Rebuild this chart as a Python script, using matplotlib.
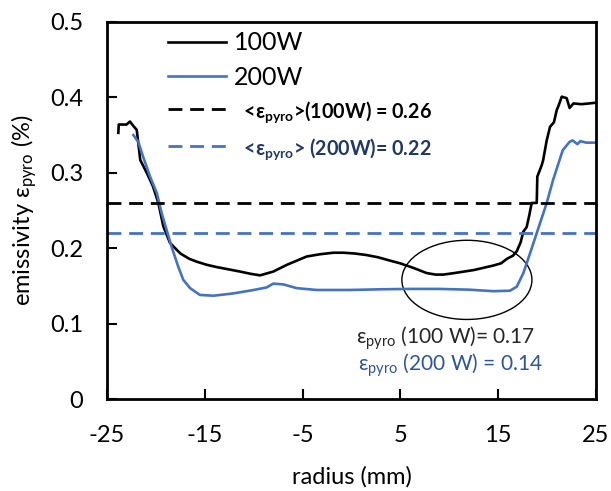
import matplotlib
matplotlib.use("Agg")
import matplotlib.pyplot as plt
from matplotlib.patches import Ellipse

plt.rcParams['font.family'] = ['Lato', 'DejaVu Sans']
plt.rcParams['mathtext.fontset'] = 'custom'
plt.rcParams['mathtext.rm'] = 'Lato'
plt.rcParams['mathtext.it'] = 'Lato:italic'
plt.rcParams['mathtext.bf'] = 'Lato:bold'

# ---- data ----
r_100 = [-23.84, -23.8, -23.0, -22.65, -22.3, -21.96, -21.6, -20.9, -20.3, -19.75,
         -19.24, -18.56, -17.5, -16.6, -15.8, -14.8, -13.8, -12.6, -11.4, -10.3,
         -9.35, -8.0, -6.6, -5.5, -4.58, -3.2, -1.86, -0.8, 0.3, 1.5,
         2.7, 3.8, 4.96, 6.3, 7.69, 8.6, 9.4, 10.5, 11.5, 12.5,
         13.5, 14.5, 15.3, 15.9, 16.5, 16.9, 17.3, 17.57, 17.91, 18.2,
         18.42, 18.94, 19.0, 19.45, 19.6, 19.96, 20.3, 20.7, 20.98, 21.2,
         21.5, 22.0, 22.3, 22.7, 23.5, 24.3, 25.0]
e_100 = [0.353, 0.364, 0.364, 0.368, 0.362, 0.357, 0.317, 0.299, 0.282, 0.260,
         0.229, 0.207, 0.193, 0.186, 0.182, 0.178, 0.175, 0.172, 0.169, 0.166,
         0.164, 0.169, 0.178, 0.184, 0.189, 0.192, 0.194, 0.194, 0.193, 0.191,
         0.188, 0.184, 0.180, 0.174, 0.167, 0.165, 0.165, 0.167, 0.169, 0.171,
         0.174, 0.177, 0.180, 0.186, 0.190, 0.196, 0.208, 0.222, 0.228, 0.245,
         0.260, 0.260, 0.295, 0.310, 0.317, 0.343, 0.361, 0.367, 0.383, 0.390,
         0.401, 0.399, 0.386, 0.392, 0.391, 0.392, 0.393]

r_200 = [-22.3, -21.8, -21.3, -20.6, -19.9, -19.4, -18.9, -18.4, -17.7, -17.2,
         -16.5, -15.5, -14.1, -12.1, -10.0, -8.67, -8.0, -6.97, -5.6, -3.56,
         -0.15, 3.0, 6.0, 9.0, 12.0, 14.5, 16.2, 16.9, 17.57, 18.25,
         18.94, 19.96, 20.6, 21.6, 22.3, 22.6, 23.1, 23.4, 24.0, 25.0]
e_200 = [0.350, 0.341, 0.321, 0.295, 0.273, 0.246, 0.224, 0.202, 0.175, 0.158,
         0.147, 0.138, 0.137, 0.140, 0.1446, 0.148, 0.153, 0.152, 0.147, 0.1446,
         0.1446, 0.1455, 0.146, 0.146, 0.145, 0.143, 0.1436, 0.149, 0.167, 0.193,
         0.220, 0.260, 0.290, 0.330, 0.341, 0.343, 0.338, 0.342, 0.340, 0.340]

mean_100 = 0.26
mean_200 = 0.22

labels = ['100W', '200W',
          r'  <$\mathbf{ε_{pyro}}$>(100W) = 0.26',
          r'  <$\mathbf{ε_{pyro}}$> (200W)= 0.22']
note_100 = r'$\mathrm{ε_{pyro}}$ (100 W)= 0.17'
note_200 = r'$\mathrm{ε_{pyro}}$ (200 W) = 0.14'

# ellipse (data units)
ell_center = (11.8, 0.158)
ell_w, ell_h = 13.3, 0.105

BLACK = '#000000'
BLUE = '#4472C4'
DARKBLUE = '#1F3864'

fig = plt.figure(figsize=(6.11, 4.91), dpi=100)
ax = fig.add_axes([107/611, (491-399)/491, (596-107)/611, (399-22)/491])

l1, = ax.plot(r_100, e_100, color=BLACK, lw=1.9)
l2, = ax.plot(r_200, e_200, color=BLUE, lw=1.9)
l3 = ax.axhline(mean_100, color=BLACK, lw=2.0, dashes=(5, 2.8))
l4 = ax.axhline(mean_200, color=BLUE, lw=2.0, dashes=(5, 2.8))

ax.add_patch(Ellipse(ell_center, ell_w, ell_h, fill=False, ec=BLACK, lw=1.0))

ax.text(0.5, 0.081, note_100, color='#262626', fontsize=15, va='center', ha='left')
ax.text(0.7, 0.045, note_200, color='#2F5597', fontsize=15, va='center', ha='left')

ax.set_xlim(-25, 25)
ax.set_ylim(0, 0.5)
ax.set_xticks([-25, -15, -5, 5, 15, 25])
ax.set_xticklabels(['-25', '-15', '-5', '5', '15', '25'])
ax.set_yticks([0, 0.1, 0.2, 0.3, 0.4, 0.5])
ax.set_yticklabels(['0', '0.1', '0.2', '0.3', '0.4', '0.5'])
ax.tick_params(direction='in', length=7, width=1.5, labelsize=17, colors='black')
ax.tick_params(axis='x', pad=19)
ax.tick_params(axis='y', pad=17)
for s in ax.spines.values():
    s.set_linewidth(2.0)

ax.set_xlabel('radius (mm)', fontsize=17, labelpad=14)
ax.set_ylabel(r'emissivity $\mathrm{ε_{pyro}}$ (%)', fontsize=17, labelpad=8)

leg = ax.legend([l1, l2, l3, l4], labels, loc='upper left',
                bbox_to_anchor=((168-107)/489, 0.975), frameon=False,
                borderaxespad=0, borderpad=0,
                handlelength=2.32, handletextpad=0.32, labelspacing=0.45,
                fontsize=18)
texts = leg.get_texts()
texts[2].set_fontsize(14.2)
texts[2].set_fontweight('bold')
texts[3].set_fontsize(14.2)
texts[3].set_fontweight('bold')
texts[3].set_color(DARKBLUE)

fig.savefig('out.png', dpi=100)
